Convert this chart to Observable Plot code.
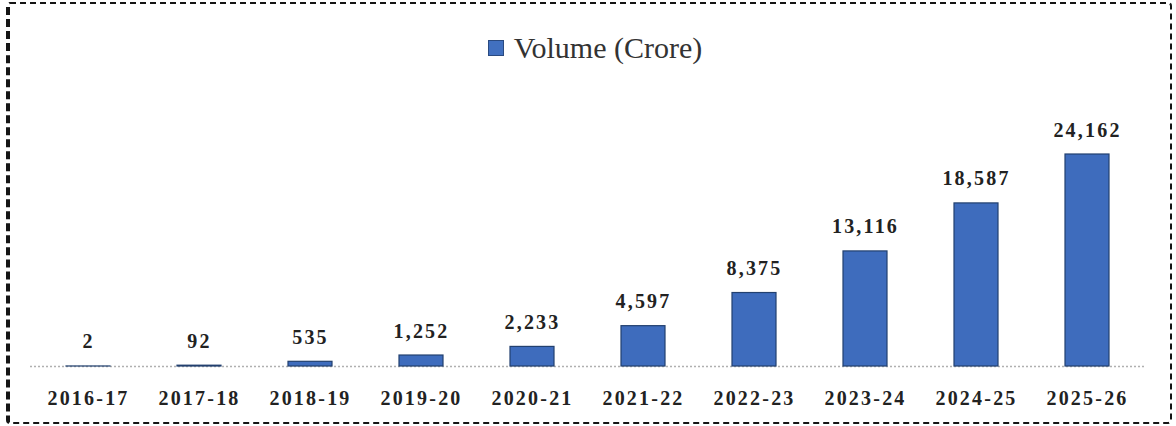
<!DOCTYPE html>
<html>
<head>
<meta charset="utf-8">
<script src="https://cdn.jsdelivr.net/npm/d3@7"></script>
<script src="https://cdn.jsdelivr.net/npm/@observablehq/plot@0.6"></script>
<style>
  html, body { margin: 0; padding: 0; background: #fff; }
  #frame {
    position: absolute; left: 6px; top: 2px;
    width: 1166px; height: 422px; box-sizing: border-box;
    border: 2px dashed #151515; border-left-width: 4px;
    border-radius: 4px;
    background: #fff;
  }
  #legend {
    height: 86px; display: flex; justify-content: center; align-items: flex-start;
    font-family: "Liberation Serif", "Times New Roman", serif; font-size: 30px; color: #333;
    padding-left: 10px; box-sizing: border-box;
  }
  #legend .inner { margin-top: 27px; display: flex; align-items: center; }
  #legend .sw { width: 16px; height: 16px; background: #4170c0; border: 1px solid #2a4a80; margin-right: 10px; box-sizing: border-box; }
</style>
</head>
<body>
<div id="frame">
  <div id="legend"><div class="inner"><span class="sw"></span><span>Volume (Crore)</span></div></div>
  <div id="chart"></div>
</div>
<script>
const years = ["2016-17","2017-18","2018-19","2019-20","2020-21","2021-22","2022-23","2023-24","2024-25","2025-26"];
const volumes = [2, 92, 535, 1252, 2233, 4597, 8375, 13116, 18587, 24162];
const seriesName = "Volume (Crore)";

const data = years.map((y, i) => ({year: y, value: volumes[i]}));
const fmt = d3.format(",");

const chart = Plot.plot({
  width: 1160,
  height: 332,
  marginLeft: 20,
  marginRight: 24,
  marginTop: 64,
  marginBottom: 56,
  style: {fontFamily: "'Liberation Serif', 'Times New Roman', serif", background: "transparent"},
  x: {domain: years, paddingInner: 0.6, paddingOuter: 0.29, label: null},
  y: {domain: [0, 24162], axis: null},
  marks: [
    Plot.ruleY([0], {stroke: "#b0b0b0", strokeWidth: 1.5, strokeDasharray: "2,2"}),
    Plot.barY(data, {x: "year", y: "value", fill: "#3e6cbd", stroke: "#22406f", strokeWidth: 1.2}),
    Plot.text(data, {x: "year", y: "value", text: d => fmt(d.value), dy: -18, lineAnchor: "bottom",
      fontSize: 20, fontWeight: "bold", fill: "#222"}),
    Plot.axisX({tickSize: 0, tickPadding: 24, fontSize: 20, fontWeight: "bold", fill: "#222", label: null})
  ]
});
chart.querySelectorAll("text").forEach(t => { t.style.letterSpacing = "2.2px"; });
document.getElementById("chart").appendChild(chart);
</script>
</body>
</html>
